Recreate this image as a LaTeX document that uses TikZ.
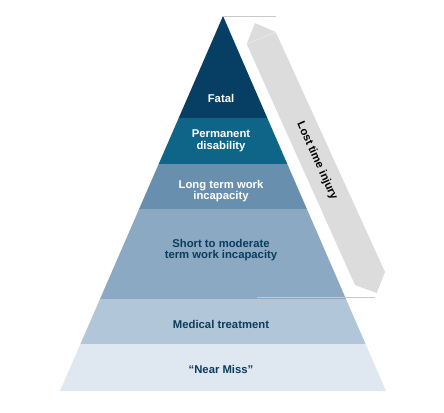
\documentclass[tikz,border=0pt]{standalone}
\usepackage{fontspec}
\setmainfont{Liberation Sans}
\usepackage{xcolor}
\usepackage{tikz}
\definecolor{lvlA}{HTML}{063F63}
\definecolor{lvlB}{HTML}{0F6588}
\definecolor{lvlC}{HTML}{6890AE}
\definecolor{lvlD}{HTML}{8CA9C3}
\definecolor{lvlE}{HTML}{B2C6DA}
\definecolor{lvlF}{HTML}{DFE7F0}
\definecolor{ink}{HTML}{0B3C5D}
\definecolor{bar}{HTML}{DCDCDC}
\definecolor{rule}{HTML}{C8C8C8}
\tikzset{
  lvl/.style={font=\fontsize{11.3}{11.8}\selectfont\bfseries,align=center,inner sep=1pt},
  lite/.style={lvl,text=white},
  dark/.style={lvl,text=ink},
  edge/.style={draw=rule,line width=0.9pt},
}

\begin{document}
\begin{tikzpicture}[x=1pt,y=-1pt]
\useasboundingbox (0,0) rectangle (444,412);
% pyramid bands, top to bottom
\fill[lvlA] (223,16) -- (267.3,118) -- (178.7,118) -- cycle;
\fill[lvlB] (178.7,118) -- (267.3,118) -- (287.3,164) -- (158.7,164) -- cycle;
\fill[lvlC] (158.7,164) -- (287.3,164) -- (306.9,209) -- (139.1,209) -- cycle;
\fill[lvlD] (139.1,209) -- (306.9,209) -- (346.0,299) -- (100.0,299) -- cycle;
\fill[lvlE] (100.0,299) -- (346.0,299) -- (365.6,344) -- (80.4,344) -- cycle;
\fill[lvlF] (80.4,344) -- (365.6,344) -- (386,391) -- (60,391) -- cycle;
% bracket for lost time
\coordinate (top) at (223,16);
\coordinate (topend) at (276,16);
\coordinate (bot) at (257,297);
\coordinate (botend) at (375,297);
\draw[edge] (top) -- (topend);
\draw[edge] (bot) -- (botend);
\fill[bar] (255,23) -- (275.7,32) -- (385,272) -- (376.7,293) -- (355,285) -- (246.7,44) -- cycle;
\draw[white,opacity=0.6,thin] (246.7,44) -- (275.7,32);
\node[lvl,rotate=-65.8] (lti) at (317,161) {Lost time injury};
% labels
\node[lite] (fatal) at (221,98) {Fatal};
\node[lite] (perm) at (221,141) {Permanent\\disability};
\node[lite] (long) at (221,191) {Long term work\\incapacity};
\node[dark] (short) at (221,250) {Short to moderate\\term work incapacity};
\node[dark] (med) at (221,324) {Medical treatment};
\node[dark] (near) at (221,369) {“Near Miss”};
\end{tikzpicture}
\end{document}
